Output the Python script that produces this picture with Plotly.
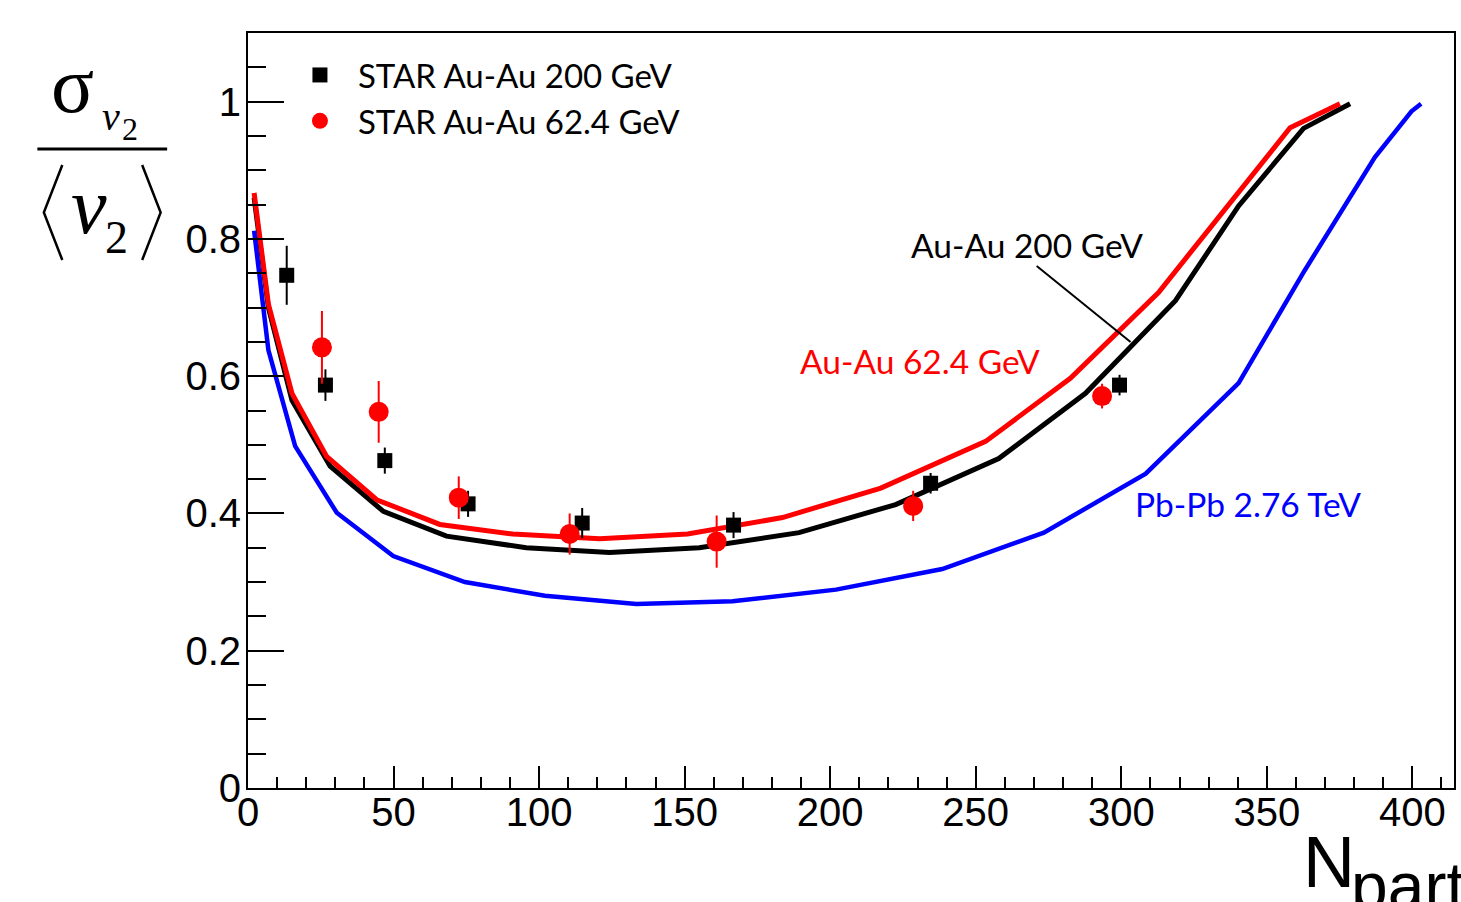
import plotly.graph_objects as go

# ---------------- data ----------------
star200_x = [13.3, 26.6, 47.0, 75.6, 114.8, 166.8, 234.5, 299.4]
star200_y = [0.747, 0.587, 0.477, 0.414, 0.386, 0.383, 0.444, 0.587]
star200_err = [0.043, 0.023, 0.019, 0.019, 0.022, 0.019, 0.015, 0.015]

star62_x = [25.4, 44.9, 72.4, 110.5, 161.0, 228.5, 293.4]
star62_y = [0.642, 0.548, 0.423, 0.370, 0.359, 0.411, 0.571]
star62_err = [0.053, 0.045, 0.031, 0.030, 0.038, 0.022, 0.018]

auau200_x = [2.1, 7.0, 15.1, 28.2, 46.5, 68.2, 95.6, 124.2, 155.0, 189.3, 222.5,
             257.9, 287.7, 318.6, 340.3, 362.6, 378.6]
auau200_y = [0.860, 0.700, 0.565, 0.469, 0.403, 0.367, 0.350, 0.343, 0.350, 0.372, 0.413,
             0.480, 0.575, 0.710, 0.848, 0.961, 0.997]

auau62_x = [2.1, 7.0, 15.1, 27.0, 44.2, 65.9, 91.0, 120.8, 151.0, 183.6, 217.4,
            253.4, 282.5, 312.8, 358.0, 375.1]
auau62_y = [0.867, 0.705, 0.575, 0.483, 0.420, 0.384, 0.370, 0.363, 0.370, 0.394, 0.437,
            0.505, 0.597, 0.722, 0.962, 0.997]

pbpb_x = [2.1, 7.0, 16.2, 30.5, 49.9, 74.5, 102.0, 133.4, 166.5, 202.0, 238.5,
          273.4, 308.4, 340.3, 363.0, 387.1, 399.7, 403.0]
pbpb_y = [0.812, 0.638, 0.498, 0.401, 0.338, 0.300, 0.280, 0.268, 0.272, 0.289, 0.319,
          0.372, 0.458, 0.590, 0.754, 0.919, 0.986, 0.997]

legend_labels = ["STAR Au-Au 200 GeV", "STAR Au-Au 62.4 GeV"]
model_labels = ["Au-Au 200 GeV", "Au-Au 62.4 GeV", "Pb-Pb 2.76 TeV"]

# ---------------- layout helpers (pixel -> paper) ----------------
W, H = 1461, 902
L, R, T, B = 248, 1456, 33, 788


def px(x):
    return (x - L) / (R - L)


def py(y):
    return (B - y) / (B - T)


fig = go.Figure()

fig.add_trace(go.Scatter(x=auau200_x, y=auau200_y, mode="lines",
                         line=dict(color="#000000", width=5), showlegend=False))
fig.add_trace(go.Scatter(x=auau62_x, y=auau62_y, mode="lines",
                         line=dict(color="#ff0000", width=5), showlegend=False))
fig.add_trace(go.Scatter(x=pbpb_x, y=pbpb_y, mode="lines",
                         line=dict(color="#0000ff", width=4.5), showlegend=False))

fig.add_trace(go.Scatter(
    x=star200_x, y=star200_y, mode="markers", name=legend_labels[0],
    marker=dict(symbol="square", size=15, color="#000000"),
    error_y=dict(type="data", array=star200_err, visible=True,
                 thickness=2, width=0, color="#000000")))
fig.add_trace(go.Scatter(
    x=star62_x, y=star62_y, mode="markers", name=legend_labels[1],
    marker=dict(symbol="circle", size=20, color="#ff0000"),
    error_y=dict(type="data", array=star62_err, visible=True,
                 thickness=2, width=0, color="#ff0000")))

tickfont = dict(family="Liberation Sans, Arial, sans-serif", size=40, color="#000000")

fig.update_xaxes(
    range=[0, 414.3], showgrid=False, zeroline=False,
    showline=True, linecolor="#000000", linewidth=2, mirror=True,
    ticks="inside", ticklen=22, tickwidth=2, tickcolor="#000000",
    tick0=0, dtick=50, tickfont=tickfont, ticklabelstandoff=-12,
    minor=dict(ticks="inside", dtick=10, ticklen=11, tickwidth=2, tickcolor="#000000"),
)
fig.update_yaxes(
    range=[0, 1.1], showgrid=False, zeroline=False,
    showline=True, linecolor="#000000", linewidth=2, mirror=True,
    ticks="inside", ticklen=36, tickwidth=2, tickcolor="#000000",
    tick0=0, dtick=0.2, tickfont=tickfont, ticklabelstandoff=-3,
    minor=dict(ticks="inside", dtick=0.05, ticklen=18, tickwidth=2, tickcolor="#000000"),
)

txt_font = "Lato, Open Sans, sans-serif"
serif = "Liberation Serif, Times New Roman, serif"
sans = "Liberation Sans, Arial, sans-serif"

annotations = [
    # model labels
    dict(text=model_labels[0], x=px(1028), y=py(245), font=dict(family=txt_font, size=33.5, color="#000000")),
    dict(text=model_labels[1], x=px(921), y=py(361), font=dict(family=txt_font, size=33.5, color="#ff0000")),
    dict(text=model_labels[2], x=px(1250), y=py(504), font=dict(family=txt_font, size=33.5, color="#0000ff")),
    # y-axis title pieces
    dict(text="σ", x=px(72), y=py(85), font=dict(family=serif, size=80, color="#000000")),
    dict(text="<i>v</i>", x=px(111), y=py(116.5), font=dict(family=serif, size=40, color="#000000")),
    dict(text="2", x=px(130), y=py(129), font=dict(family=serif, size=32, color="#000000")),
    dict(text="<i>v</i>", x=px(89), y=py(206), font=dict(family=serif, size=80, color="#000000")),
    dict(text="2", x=px(116), y=py(237.5), font=dict(family=serif, size=46, color="#000000")),
    # x-axis title pieces
    dict(text="N", x=px(1303), y=py(862), xanchor="left",
         font=dict(family=sans, size=72, color="#000000")),
    dict(text="part", x=px(1351), y=py(886), xanchor="left",
         font=dict(family=sans, size=66, color="#000000")),
]
for a in annotations:
    a.setdefault("xanchor", "center")
    a.update(xref="paper", yref="paper", yanchor="middle", showarrow=False)

shapes = [
    # pointer line for Au-Au 200 GeV label
    dict(type="line", xref="paper", yref="paper", x0=px(1038), y0=py(266), x1=px(1132), y1=py(342),
         line=dict(color="#000000", width=2)),
    # fraction bar
    dict(type="line", xref="paper", yref="paper", x0=px(37), y0=py(149), x1=px(167), y1=py(149),
         line=dict(color="#000000", width=3)),
    # angle brackets
    dict(type="path", xref="paper", yref="paper",
         path=f"M {px(62)},{py(165)} L {px(43.5)},{py(212.5)} L {px(62)},{py(260)}",
         line=dict(color="#000000", width=2.5)),
    dict(type="path", xref="paper", yref="paper",
         path=f"M {px(142)},{py(165)} L {px(160.5)},{py(212.5)} L {px(142)},{py(260)}",
         line=dict(color="#000000", width=2.5)),
]

fig.update_layout(
    width=W, height=H,
    margin=dict(l=L, r=W - R, t=T, b=H - B, pad=0),
    paper_bgcolor="#ffffff", plot_bgcolor="#ffffff",
    annotations=annotations, shapes=shapes,
    legend=dict(x=px(282), y=py(47), xanchor="left", yanchor="top",
                bgcolor="rgba(0,0,0,0)", borderwidth=0,
                font=dict(family=txt_font, size=33, color="#000000"),
                itemwidth=66, tracegroupgap=0),
)

fig.write_html("out.html")
